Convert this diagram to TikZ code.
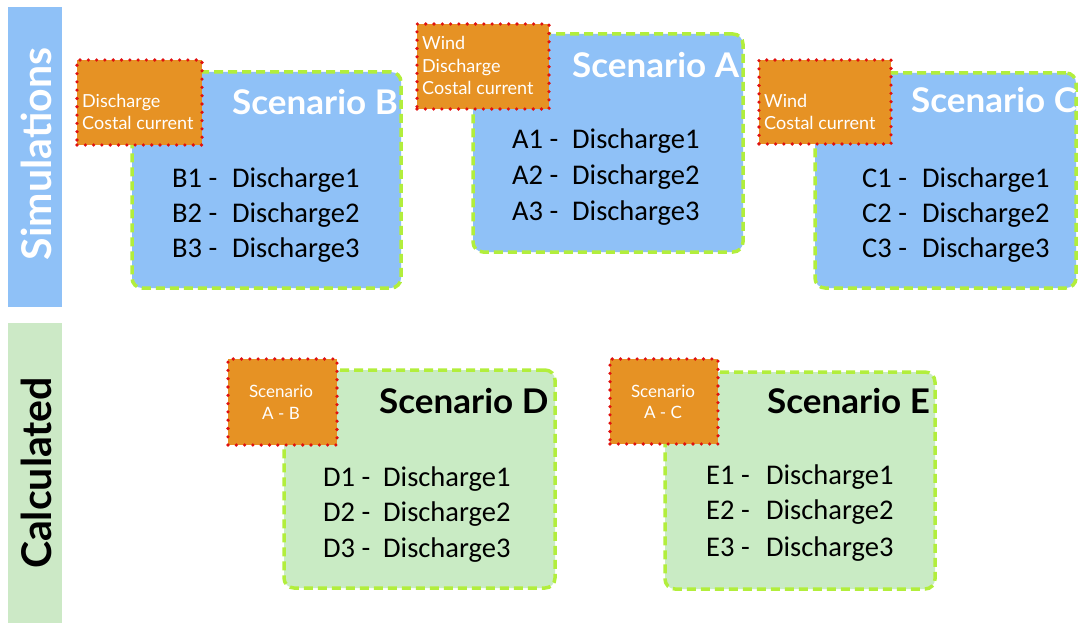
\documentclass[tikz,border=0pt]{standalone}
\usepackage{fontspec}
\setmainfont{Carlito}
\newfontfamily\gillfont{Lato}
\definecolor{simblue}{HTML}{8FC1F7}
\definecolor{calcgreen}{HTML}{CCE9C6}
\definecolor{boxgreen}{HTML}{C9EBC4}
\definecolor{limeb}{HTML}{B2EE3C}
\definecolor{orng}{HTML}{E69224}
\definecolor{dotred}{HTML}{E0110F}
\tikzset{
  sbox/.style={draw=limeb, line width=3.5pt, dash pattern=on 9pt off 5pt,
    rounded corners=10pt, anchor=north west, inner sep=0pt, outer sep=0pt},
  tagbox/.style={draw=dotred, fill=orng, line width=3.6pt, line cap=round,
    dash pattern=on 0pt off 8.3pt, anchor=north west, inner sep=0pt, outer sep=0pt},
  bar/.style={anchor=north west, inner sep=0pt, outer sep=0pt},
  bartext/.style={rotate=90, font=\gillfont\bfseries\fontsize{41}{41}\selectfont},
  head/.style={anchor=base west, inner sep=0pt, font=\gillfont\bfseries\fontsize{34}{34}\selectfont},
  tagtext/.style={anchor=base west, inner sep=0pt, text=white, font=\gillfont\fontsize{18}{18}\selectfont},
  tagctext/.style={anchor=base, inner sep=0pt, text=white, font=\gillfont\fontsize{17}{17}\selectfont},
  item/.style={anchor=base west, inner sep=0pt, font=\fontsize{28.5}{28.5}\selectfont},
}
\newcommand{\itm}[2]{\makebox[60pt][l]{#1 -}#2}
\newcommand{\hd}[1]{\scalebox{1.03}[1]{#1}}
\begin{document}
\begin{tikzpicture}[x=1pt,y=-1pt]
\useasboundingbox (0,0) rectangle (1079,623);
% side bars
\node[bar, fill=simblue, minimum width=54pt, minimum height=300pt] (simbar) at (8,7) {};
\node[bartext, text=white] (simlab) at (36,154) {Simulations};
\node[bar, fill=calcgreen, minimum width=54pt, minimum height=300pt] (calcbar) at (8,323) {};
\node[bartext, text=black] (calclab) at (36,473) {Calculated};
% scenario boxes
\node[sbox, fill=simblue, minimum width=269pt, minimum height=216pt] (B) at (132,72) {};
\node[sbox, fill=simblue, minimum width=270pt, minimum height=218pt] (A) at (473,34) {};
\node[sbox, fill=simblue, minimum width=261pt, minimum height=215pt] (C) at (815,73) {};
\node[sbox, fill=boxgreen, minimum width=271pt, minimum height=218pt] (D) at (284,370) {};
\node[sbox, fill=boxgreen, minimum width=270pt, minimum height=217pt] (E) at (665,372) {};
% tags
\node[tagbox, minimum width=125pt, minimum height=85pt] (tB) at (77,60) {};
\node[tagbox, minimum width=132pt, minimum height=85pt] (tA) at (417,24) {};
\node[tagbox, minimum width=132pt, minimum height=84pt] (tC) at (759,60) {};
\node[tagbox, minimum width=109pt, minimum height=86pt] (tD) at (228,359) {};
\node[tagbox, minimum width=108pt, minimum height=85pt] (tE) at (610,359) {};
% tag texts
\node[tagtext] (tB1) at (82,108) {Discharge};
\node[tagtext] (tB2) at (82,130) {Costal current};
\node[tagtext] (tA1) at (422,50) {Wind};
\node[tagtext] (tA2) at (422,73) {Discharge};
\node[tagtext] (tA3) at (422,95) {Costal current};
\node[tagtext] (tC1) at (764,108) {Wind};
\node[tagtext] (tC2) at (764,130) {Costal current};
\node[tagctext] (tD1) at (281,397) {Scenario};
\node[tagctext] (tD2) at (281,419) {A - B};
\node[tagctext] (tE1) at (663,397) {Scenario};
\node[tagctext] (tE2) at (663,418) {A - C};
% headings
\node[head, text=white] (hB) at (232,115) {\hd{Scenario B}};
\node[head, text=white] (hA) at (572,78) {\hd{Scenario A}};
\node[head, text=white] (hC) at (911,113) {\hd{Scenario C}};
\node[head, text=black] (hD) at (379,413) {\hd{Scenario D}};
\node[head, text=black] (hE) at (767,413) {\hd{Scenario E}};
% items
\node[item] (B1) at (172,187) {\itm{B1}{Discharge1}};
\node[item] (B2) at (172,222) {\itm{B2}{Discharge2}};
\node[item] (B3) at (172,257) {\itm{B3}{Discharge3}};
\node[item] (A1) at (512,149) {\itm{A1}{Discharge1}};
\node[item] (A2) at (512,184) {\itm{A2}{Discharge2}};
\node[item] (A3) at (512,220) {\itm{A3}{Discharge3}};
\node[item] (C1) at (862,187) {\itm{C1}{Discharge1}};
\node[item] (C2) at (862,222) {\itm{C2}{Discharge2}};
\node[item] (C3) at (862,257) {\itm{C3}{Discharge3}};
\node[item] (D1) at (323,486) {\itm{D1}{Discharge1}};
\node[item] (D2) at (323,521) {\itm{D2}{Discharge2}};
\node[item] (D3) at (323,557) {\itm{D3}{Discharge3}};
\node[item] (E1) at (706,484) {\itm{E1}{Discharge1}};
\node[item] (E2) at (706,519) {\itm{E2}{Discharge2}};
\node[item] (E3) at (706,556) {\itm{E3}{Discharge3}};
\end{tikzpicture}
\end{document}
